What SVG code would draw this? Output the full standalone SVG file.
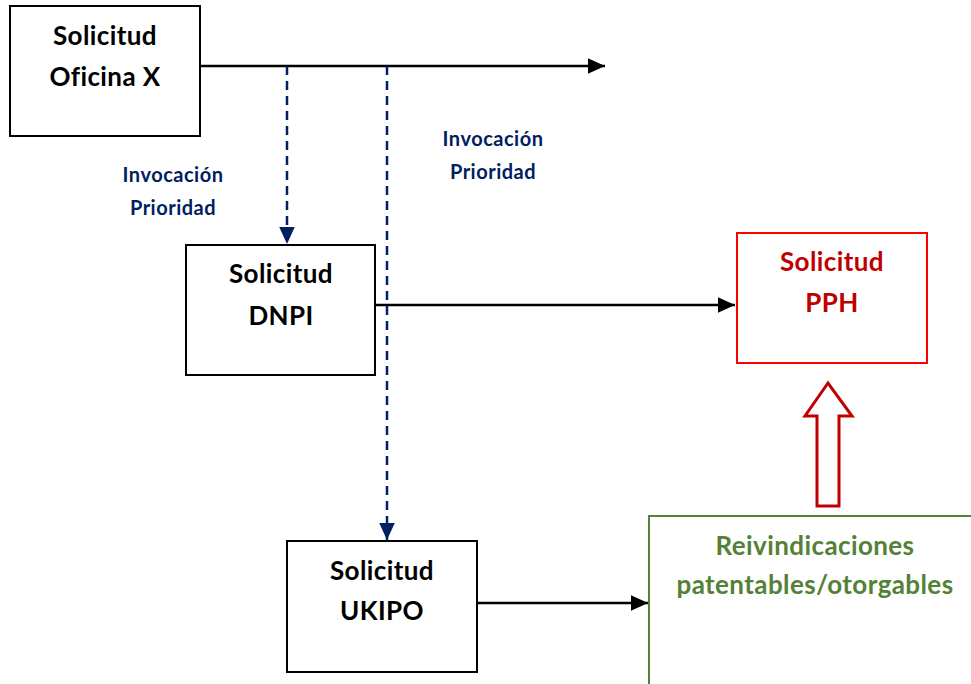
<svg xmlns="http://www.w3.org/2000/svg" width="971" height="684" viewBox="0 0 971 684">
<style>
.box{fill:#fff;stroke:#000;stroke-width:2}
.t{font-family:Lato,"Open Sans","Liberation Sans",sans-serif;font-weight:bold;text-anchor:middle}
.big{font-size:26px;letter-spacing:0.4px}
.lbl{font-size:20px;fill:#002060;letter-spacing:0.5px}
.solid{stroke:#000;stroke-width:2.5;fill:none}
.dash{stroke:#002060;stroke-width:2.5;stroke-dasharray:9 6;fill:none}
</style>
<defs>
<marker id="ab" markerWidth="8" markerHeight="8" refX="7" refY="4" orient="auto" markerUnits="strokeWidth"><path d="M0,0.8 L7,4 L0,7.2 Z" fill="#000"/></marker>
<marker id="an" markerWidth="8" markerHeight="8" refX="7" refY="4" orient="auto" markerUnits="strokeWidth"><path d="M0,0.8 L7,4 L0,7.2 Z" fill="#002060"/></marker>
</defs>
<g id="connectors">
<path class="solid" d="M200,66 H605" marker-end="url(#ab)"/>
<path class="solid" d="M375,305 H735" marker-end="url(#ab)"/>
<path class="solid" d="M477,603 H648" marker-end="url(#ab)"/>
<path class="dash" d="M287,66 V244" marker-end="url(#an)"/>
<path class="dash" d="M387,66 V540" marker-end="url(#an)"/>
<path d="M817,506 V416 H805 L828,383 L852,416 H839 V506 Z" fill="#fff" stroke="#C00000" stroke-width="3"/>
</g>
<g id="lbl1"><text class="t lbl" x="173" y="182">Invocación</text><text class="t lbl" x="173" y="215">Prioridad</text></g>
<g id="lbl2"><text class="t lbl" x="493" y="146">Invocación</text><text class="t lbl" x="493" y="179">Prioridad</text></g>
<g id="oficina"><rect class="box" x="10" y="6" width="190" height="130"/><text class="t big" x="105" y="45">Solicitud</text><text class="t big" x="105" y="86">Oficina X</text></g>
<g id="dnpi"><rect class="box" x="186" y="245" width="189" height="130"/><text class="t big" x="281" y="283">Solicitud</text><text class="t big" x="281" y="325">DNPI</text></g>
<g id="pph"><rect x="737" y="233" width="190" height="130" fill="#fff" stroke="#FF0000" stroke-width="2"/><text class="t big" x="832" y="271" fill="#C00000">Solicitud</text><text class="t big" x="832" y="312" fill="#C00000">PPH</text></g>
<g id="ukipo"><rect class="box" x="287" y="541" width="190" height="131"/><text class="t big" x="382" y="580">Solicitud</text><text class="t big" x="382" y="620">UKIPO</text></g>
<g id="reiv"><rect x="649" y="516" width="340" height="200" fill="#fff" stroke="#538135" stroke-width="2"/><text class="t big" x="815" y="555" fill="#538135">Reivindicaciones</text><text class="t big" x="815" y="594" fill="#538135">patentables/otorgables</text></g>
</svg>
